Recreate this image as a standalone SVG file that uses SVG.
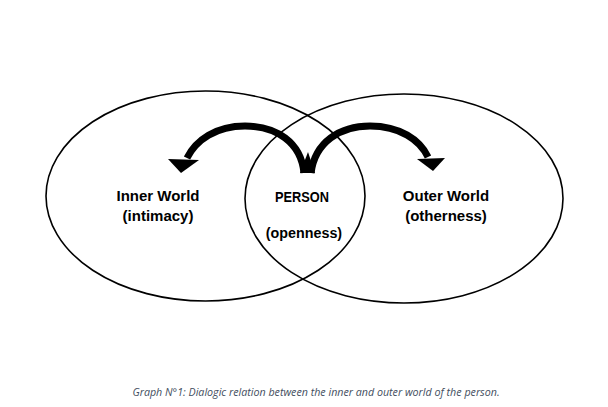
<svg xmlns="http://www.w3.org/2000/svg" width="608" height="407" viewBox="0 0 608 407">
<style>
.ell{fill:none;stroke:#000;stroke-width:1.6}
.lbl{font-family:"Liberation Sans",Arial,sans-serif;font-weight:bold;font-size:15px;fill:#000;text-anchor:middle}
.arc{fill:none;stroke:#000;stroke-width:7}
.cap{font-family:"Open Sans","Liberation Sans",sans-serif;font-style:italic;font-size:10.7px;fill:#434e5e;text-anchor:middle}
</style>
<rect width="608" height="407" fill="#fff"/>
<g id="inner-world">
<ellipse class="ell" cx="205.5" cy="196" rx="159.5" ry="105"/>
<text class="lbl" x="158" y="201">Inner World</text>
<text class="lbl" x="158" y="221">(intimacy)</text>
</g>
<g id="outer-world">
<ellipse class="ell" cx="404" cy="198.5" rx="159" ry="104.5"/>
<text class="lbl" x="446" y="201">Outer World</text>
<text class="lbl" x="446" y="221">(otherness)</text>
</g>
<g id="person">
<text class="lbl" x="302" y="202" style="font-size:14px" textLength="54" lengthAdjust="spacingAndGlyphs">PERSON</text>
<text class="lbl" x="304" y="238" style="font-size:14.3px">(openness)</text>
</g>
<g id="connectors">
<path class="arc" d="M304,173 C301,142 276,126 245,126 C216,126 196,140 187,158"/>
<polygon points="181,173 168,159 199,160"/>
<path class="arc" d="M311,173 C315,142 340,126 370,126 C400,126 420,140 428,157"/>
<polygon points="433,171 417,159 445,158"/>
<polygon points="300,173 315,173 308,152"/>
</g>
<text class="cap" x="316" y="396">Graph N°1: Dialogic relation between the inner and outer world of the person.</text>
</svg>
